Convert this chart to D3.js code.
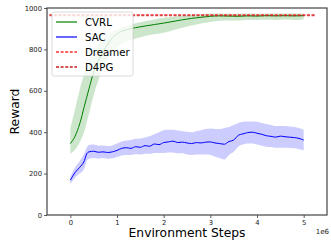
<!DOCTYPE html>
<html>
<head>
<meta charset="utf-8">
<script src="https://cdn.jsdelivr.net/npm/d3@7"></script>
<style>
  body { margin: 0; background: #fff; }
  text { font-family: "DejaVu Sans", sans-serif; }
</style>
</head>
<body>
<div id="chart"></div>
<script>
// steps in millions (axis shows 1e6 offset)
const cvrlSteps = [0, 0.1, 0.2, 0.3, 0.4, 0.5, 0.6, 0.7, 0.8, 0.9, 1.0, 1.2, 1.4, 1.6, 1.8, 2.0, 2.2, 2.4, 2.6, 2.8, 3.0, 3.2, 3.4, 3.6, 3.8, 4.0, 4.2, 4.4, 4.6, 4.8, 5.0];
const cvrlMean  = [345, 380, 440, 525, 610, 690, 745, 790, 825, 855, 875, 895, 905, 913, 920, 927, 935, 943, 950, 955, 960, 962, 961, 960, 962, 961, 963, 962, 963, 962, 963];
const cvrlLo    = [295, 315, 350, 405, 490, 580, 650, 710, 752, 785, 810, 838, 853, 865, 873, 880, 893, 905, 915, 925, 932, 938, 940, 940, 942, 942, 943, 942, 944, 942, 945];
const cvrlHi    = [420, 510, 605, 685, 745, 792, 826, 853, 872, 887, 897, 913, 926, 936, 945, 953, 958, 963, 967, 970, 973, 974, 972, 972, 973, 972, 974, 973, 974, 973, 973];

const sacSteps = [0, 0.1, 0.2, 0.3, 0.35, 0.4, 0.5, 0.6, 0.7, 0.8, 0.9, 1.0, 1.1, 1.2, 1.3, 1.4, 1.5, 1.6, 1.7, 1.8, 1.9, 2.0, 2.1, 2.2, 2.3, 2.4, 2.5, 2.6, 2.7, 2.8, 2.9, 3.0, 3.1, 3.2, 3.3, 3.4, 3.5, 3.6, 3.7, 3.8, 3.9, 4.0, 4.1, 4.2, 4.3, 4.4, 4.5, 4.6, 4.7, 4.8, 4.9, 5.0];
const sacMean  = [168, 205, 230, 262, 295, 305, 308, 303, 305, 302, 305, 312, 322, 325, 322, 330, 327, 335, 332, 343, 340, 350, 353, 357, 350, 352, 348, 345, 350, 348, 352, 353, 348, 345, 342, 355, 362, 385, 392, 398, 400, 395, 390, 383, 380, 376, 381, 378, 376, 374, 370, 362];
const sacLo    = [150, 180, 200, 225, 260, 272, 275, 272, 275, 272, 274, 280, 288, 290, 290, 293, 292, 296, 296, 300, 300, 300, 302, 302, 298, 298, 292, 290, 292, 292, 292, 290, 282, 275, 268, 290, 305, 330, 340, 345, 345, 340, 335, 330, 328, 325, 325, 325, 324, 322, 318, 312];
const sacHi    = [185, 230, 260, 298, 325, 338, 340, 335, 336, 333, 336, 345, 355, 360, 362, 368, 370, 375, 380, 390, 400, 410, 412, 412, 408, 405, 402, 400, 405, 410, 415, 418, 416, 415, 420, 425, 435, 445, 450, 452, 452, 450, 445, 440, 435, 430, 430, 430, 428, 425, 420, 412];

const dreamerScore = 967;
const d4pgScore = 964;
const baselineSpan = [-0.45, 5.25];

const xTicks = [0, 1, 2, 3, 4, 5];
const yTicks = [0, 200, 400, 600, 800, 1000];

let width = 331, height = 250,
    margin = ({ top: 8, right: 4, bottom: 35, left: 47 });

const svg = d3.select("#chart")
    .append("svg")
    .attr("width", width)
    .attr("height", height);

let x = d3.scaleLinear()
    .domain([-0.5, 5.5])
    .range([margin.left, width - margin.right]);

let y = d3.scaleLinear()
    .domain([0, 1000])
    .range([height - margin.bottom, margin.top]);

const cvrl = cvrlSteps.map((s, i) => ({ s, m: cvrlMean[i], lo: cvrlLo[i], hi: cvrlHi[i] }));
const sac = sacSteps.map((s, i) => ({ s, m: sacMean[i], lo: sacLo[i], hi: sacHi[i] }));

const area = d3.area()
    .x(d => x(d.s))
    .y0(d => y(d.lo))
    .y1(d => y(d.hi))
    .curve(d3.curveMonotoneX);

const line = d3.line()
    .x(d => x(d.s))
    .y(d => y(d.m))
    .curve(d3.curveMonotoneX);

svg.append("path")
    .datum(cvrl)
    .attr("d", area)
    .attr("fill", "green")
    .attr("fill-opacity", 0.2);

svg.append("path")
    .datum(sac)
    .attr("d", area)
    .attr("fill", "blue")
    .attr("fill-opacity", 0.2);

svg.append("path")
    .datum(cvrl)
    .attr("d", line)
    .attr("fill", "none")
    .attr("stroke", "green")
    .attr("stroke-width", 1);

svg.append("path")
    .datum(sac)
    .attr("d", line)
    .attr("fill", "none")
    .attr("stroke", "blue")
    .attr("stroke-width", 1);

// baselines
const baselines = [
    { name: "Dreamer", v: dreamerScore, color: "#ff4040" },
    { name: "D4PG", v: d4pgScore, color: "#c81e1e" }
];
svg.append("g")
    .selectAll("line")
    .data(baselines)
    .join("line")
    .attr("x1", x(baselineSpan[0]))
    .attr("x2", x(baselineSpan[1]))
    .attr("y1", d => y(d.v))
    .attr("y2", d => y(d.v))
    .attr("stroke", d => d.color)
    .attr("stroke-opacity", 0.75)
    .attr("stroke-width", 1.5)
    .attr("stroke-dasharray", "3,1.6");

// axes
const xAxis = svg.append("g")
    .attr("transform", `translate(0,${height - margin.bottom})`)
    .call(d3.axisBottom(x).tickValues(xTicks).tickSize(3).tickPadding(2).tickFormat(d3.format("d")));

const yAxis = svg.append("g")
    .attr("transform", `translate(${margin.left},0)`)
    .call(d3.axisLeft(y).tickValues(yTicks).tickSize(3).tickPadding(2).tickFormat(d3.format("d")));

for (let ax of [xAxis, yAxis]) {
    ax.select(".domain").remove();
    ax.selectAll("line").attr("stroke", "#333").attr("stroke-width", 0.8);
    ax.selectAll("text")
        .attr("fill", "#222")
        .style("font-size", "6.8px")
        .style("font-family", "DejaVu Sans");
}

// frame
svg.append("rect")
    .attr("x", margin.left)
    .attr("y", margin.top)
    .attr("width", width - margin.left - margin.right)
    .attr("height", height - margin.top - margin.bottom)
    .attr("fill", "none")
    .attr("stroke", "#444")
    .attr("stroke-width", 1.2);

svg.append("text")
    .attr("x", width - 2)
    .attr("y", 234)
    .attr("text-anchor", "end")
    .style("font-size", "7px")
    .attr("fill", "#222")
    .text("1e6");

svg.append("text")
    .attr("x", (margin.left + width - margin.right) / 2)
    .attr("y", 237)
    .attr("text-anchor", "middle")
    .style("font-size", "12.3px")
    .text("Environment Steps");

svg.append("text")
    .attr("transform", `translate(18.5,${(margin.top + height - margin.bottom) / 2}) rotate(-90)`)
    .attr("text-anchor", "middle")
    .style("font-size", "12.3px")
    .text("Reward");

// legend
const legendItems = [
    { name: "CVRL", color: "green", dash: null },
    { name: "SAC", color: "blue", dash: null },
    { name: "Dreamer", color: "#ff3030", dash: "3,1.6" },
    { name: "D4PG", color: "#c81e1e", dash: "3,1.6" }
];

const legend = svg.append("g").attr("transform", "translate(52,12)");
legend.append("rect")
    .attr("width", 81)
    .attr("height", 64)
    .attr("rx", 2)
    .attr("fill", "white")
    .attr("fill-opacity", 0.8)
    .attr("stroke", "#d0d0d0")
    .attr("stroke-width", 0.8);

const rows = legend.selectAll("g.row")
    .data(legendItems)
    .join("g")
    .attr("class", "row")
    .attr("transform", (d, i) => `translate(0,${10 + i * 15})`);

rows.append("line")
    .attr("x1", 4).attr("x2", 25)
    .attr("stroke", d => d.color)
    .attr("stroke-width", d => d.dash ? 1.3 : 1.2)
    .attr("stroke-dasharray", d => d.dash);

rows.append("text")
    .attr("x", 33)
    .attr("y", 3.7)
    .style("font-size", "10.2px")
    .text(d => d.name);
</script>
</body>
</html>
